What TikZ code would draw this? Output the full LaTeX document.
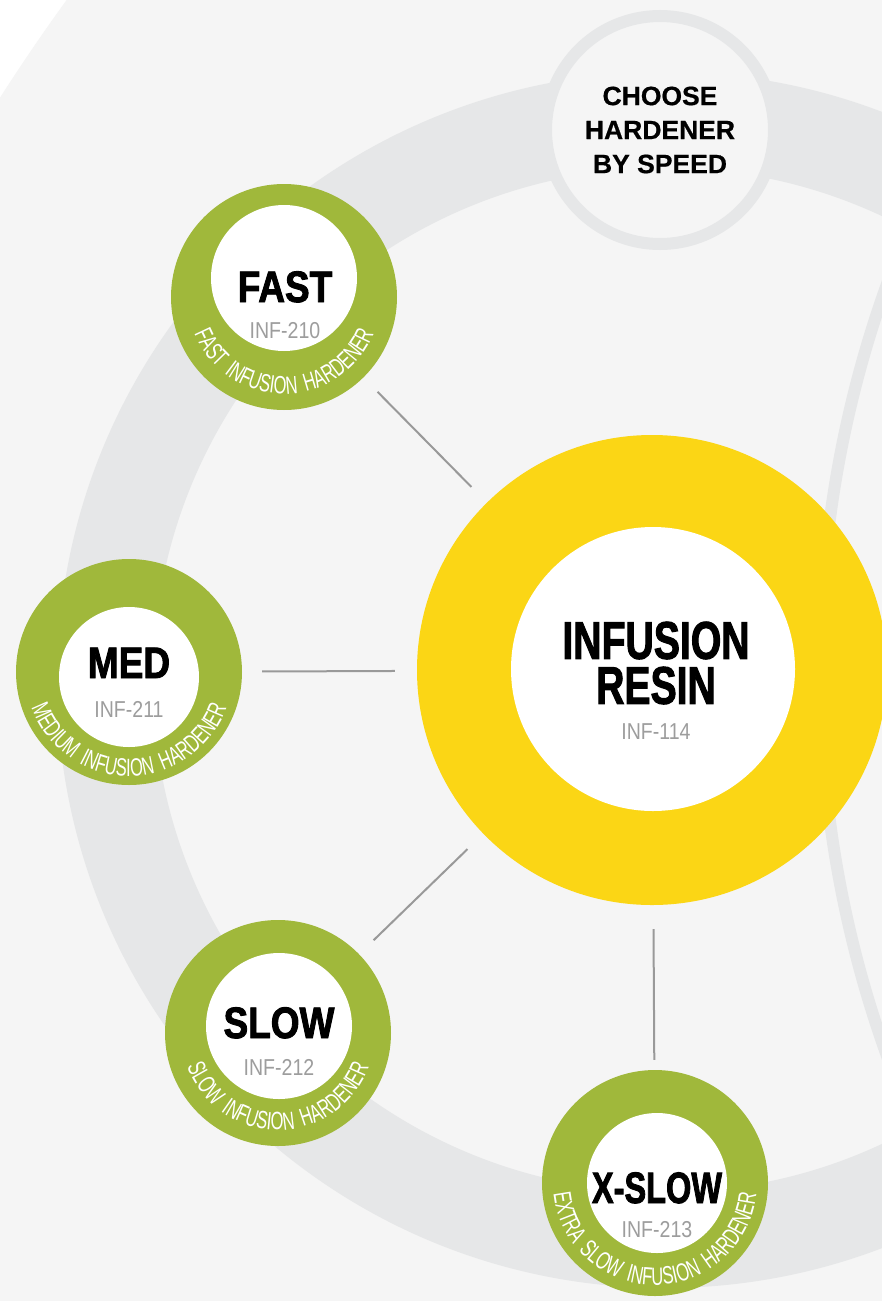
\documentclass[tikz,border=0pt]{standalone}
\usepackage{fontspec}
\setmainfont{Liberation Sans}
\newfontfamily\titlefont{Liberation Sans Bold}[FakeStretch=0.84,FakeBold=2]
\newfontfamily\headfont{Liberation Sans Bold}[FakeBold=0.6]
\newfontfamily\codefont{Liberation Sans}[FakeStretch=0.85]
\newfontfamily\ringfont{Liberation Sans}[FakeStretch=0.66,LetterSpace=6]
\usepackage{xcolor}
\usetikzlibrary{positioning,calc,decorations.text}

\definecolor{paper}{HTML}{F5F5F5}
\definecolor{track}{HTML}{E6E7E8}
\definecolor{hardgreen}{HTML}{A0B83B}
\definecolor{resinyellow}{HTML}{FBD615}
\definecolor{linkgray}{HTML}{999999}
\definecolor{codegray}{HTML}{9D9D9D}

\begin{document}
\begin{tikzpicture}[x=1pt,y=-1pt,
    badge/.style={circle, fill=hardgreen, minimum size=226pt, inner sep=0pt},
    disc/.style={circle, fill=white, minimum size=140pt, inner sep=0pt},
    badgetitle/.style={font=\titlefont\fontsize{44}{44}\selectfont, anchor=base, inner sep=0pt},
    badgecode/.style={font=\codefont\fontsize{23}{23}\selectfont, text=codegray, anchor=base, inner sep=0pt},
    link/.style={draw=linkgray, line width=2pt, shorten <=20pt, shorten >=22pt},
    ringtext/.style={decorate, decoration={text along path, text align=center,
        text={|\ringfont\fontsize{25}{25}\selectfont\color{white}|#1}}}]
    \useasboundingbox (0,0) rectangle (882,1301);
    \clip (0,0) rectangle (882,1301);

    % Background
    \fill[white] (0,0) rectangle (882,1301);
    \fill[paper] (1686,1174) circle (2000);
    \draw[track, line width=96pt] (665,680) circle (560);
    \draw[track, line width=12pt] (1960,670) circle (1140);

    % Header
    \node[circle, fill=paper, draw=track, line width=12pt, minimum size=228pt, align=center,
          font=\headfont\fontsize{26.5}{34}\selectfont] (choose) at (660,130) {CHOOSE\\HARDENER\\BY SPEED};

    % Resin
    \node[circle, fill=resinyellow, minimum size=470pt] (resin) at (652,670) {};
    \node[circle, fill=white, minimum size=284pt] (resindisc) at (653,669) {};
    \node[font=\titlefont\fontsize{53}{45}\selectfont, align=center, inner sep=0pt, xscale=0.88] (resinname) at (656,663) {INFUSION\\RESIN};
    \node[badgecode] (resincode) at (656,739) {INF-114};

    % Fast
    \node[badge] (fast) at (284,297) {};
    \node[disc, minimum size=146pt] (fastdisc) at (284,278) {};
    \node[badgetitle] (fastname) at (285,302) {FAST};
    \node[badgecode] (fastcode) at (285,338) {INF-210};
    \path[ringtext={FAST{\kern8pt}INFUSION{\kern8pt}HARDENER}] (fast.center) ++(190:97) arc[start angle=190, end angle=-10, radius=97];

    % Medium
    \node[badge] (med) at (129,672) {};
    \node[disc] (meddisc) at (129,677) {};
    \node[badgetitle] (medname) at (129,678) {MED};
    \node[badgecode] (medcode) at (129,717) {INF-211};
    \path[ringtext={MEDIUM{\kern8pt}INFUSION{\kern8pt}HARDENER}] (med.center) ++(190:104) arc[start angle=190, end angle=-10, radius=104];

    % Slow
    \node[badge] (slow) at (278,1033) {};
    \node[disc, minimum size=146pt] (slowdisc) at (279,1026) {};
    \node[badgetitle] (slowname) at (279,1038) {SLOW};
    \node[badgecode] (slowcode) at (279,1075) {INF-212};
    \path[ringtext={SLOW{\kern8pt}INFUSION{\kern8pt}HARDENER}] (slow.center) ++(190:97) arc[start angle=190, end angle=-10, radius=97];

    % Extra slow
    \node[badge] (xslow) at (655,1183) {};
    \node[disc] (xslowdisc) at (657,1183) {};
    \node[badgetitle, xscale=0.88] (xslowname) at (657,1203) {X-SLOW};
    \node[badgecode] (xslowcode) at (657,1237) {INF-213};
    \path[ringtext={EXTRA{\kern8pt}SLOW{\kern8pt}INFUSION{\kern8pt}HARDENER}] (xslow.center) ++(200:102) arc[start angle=200, end angle=-20, radius=102];

    % Connections
    \draw[link] (fast) -- (resin);
    \draw[link] (med) -- (resin);
    \draw[link] (slow) -- (resin);
    \draw[link, shorten <=24pt, shorten >=10pt] (resin) -- (xslow);
\end{tikzpicture}
\end{document}
